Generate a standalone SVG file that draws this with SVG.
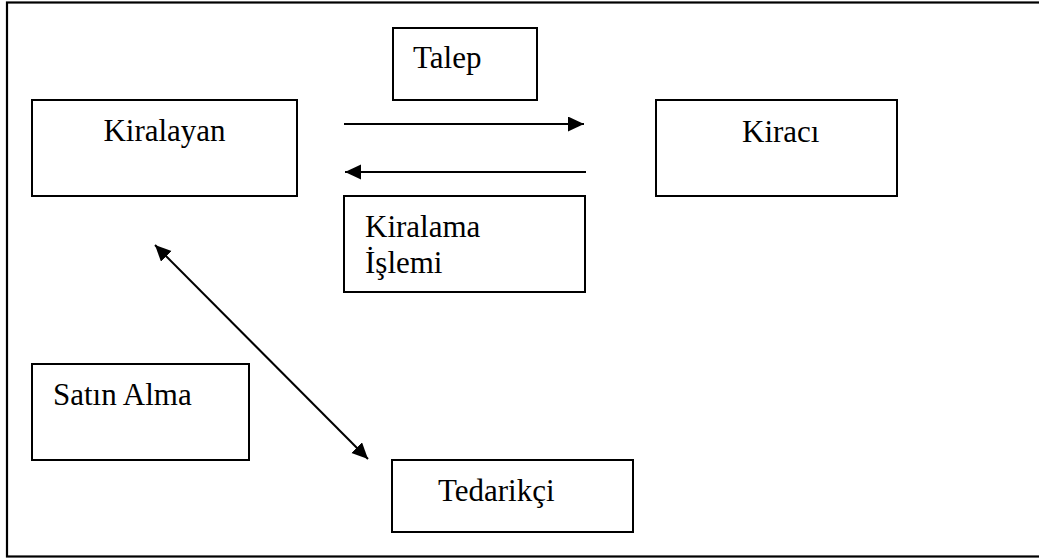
<svg xmlns="http://www.w3.org/2000/svg" width="1039" height="558" viewBox="0 0 1039 558">
<style>
.box{fill:#fff;stroke:#000;stroke-width:2}
.lbl{font-family:'Liberation Serif','Times New Roman',Times,serif;font-size:31px;fill:#000}
.conn{stroke:#000;stroke-width:2;fill:none}
</style>
<defs>
<marker id="ah" markerUnits="userSpaceOnUse" markerWidth="17" markerHeight="16" refX="16" refY="7.5" orient="auto-start-reverse" viewBox="0 0 17 16">
<path d="M0,0 L16,7.5 L0,15 z" fill="#000"/>
</marker>
</defs>
<rect width="1039" height="558" fill="#fff"/>
<rect id="frame" x="7" y="2.5" width="1040" height="554" fill="none" stroke="#000" stroke-width="2.2"/>
<g id="talep"><rect class="box" x="393" y="28" width="144" height="72"/><text class="lbl" font-family="Liberation Serif" x="413" y="68">Talep</text></g>
<g id="kiralayan"><rect class="box" x="32" y="100" width="265" height="96"/><text class="lbl" font-family="Liberation Serif" x="164.5" y="141" text-anchor="middle">Kiralayan</text></g>
<g id="kiraci"><rect class="box" x="656" y="100" width="241" height="96"/><text class="lbl" font-family="Liberation Serif" x="742" y="142">Kiracı</text></g>
<g id="kiralama"><rect class="box" x="344" y="196" width="241" height="96"/><text class="lbl" font-family="Liberation Serif" x="365" y="237">Kiralama</text><text class="lbl" font-family="Liberation Serif" x="365" y="273">İşlemi</text></g>
<g id="satinalma"><rect class="box" x="32" y="364" width="217" height="96"/><text class="lbl" font-family="Liberation Serif" x="53" y="405">Satın Alma</text></g>
<g id="tedarikci"><rect class="box" x="392" y="460" width="241" height="72"/><text class="lbl" font-family="Liberation Serif" x="438" y="501">Tedarikçi</text></g>
<g id="connectors">
<line class="conn" x1="344" y1="124" x2="584" y2="124" marker-end="url(#ah)"/>
<line class="conn" x1="586" y1="172" x2="345" y2="172" marker-end="url(#ah)"/>
<line class="conn" x1="155" y1="245" x2="368" y2="459" marker-start="url(#ah)" marker-end="url(#ah)"/>
</g>
</svg>
